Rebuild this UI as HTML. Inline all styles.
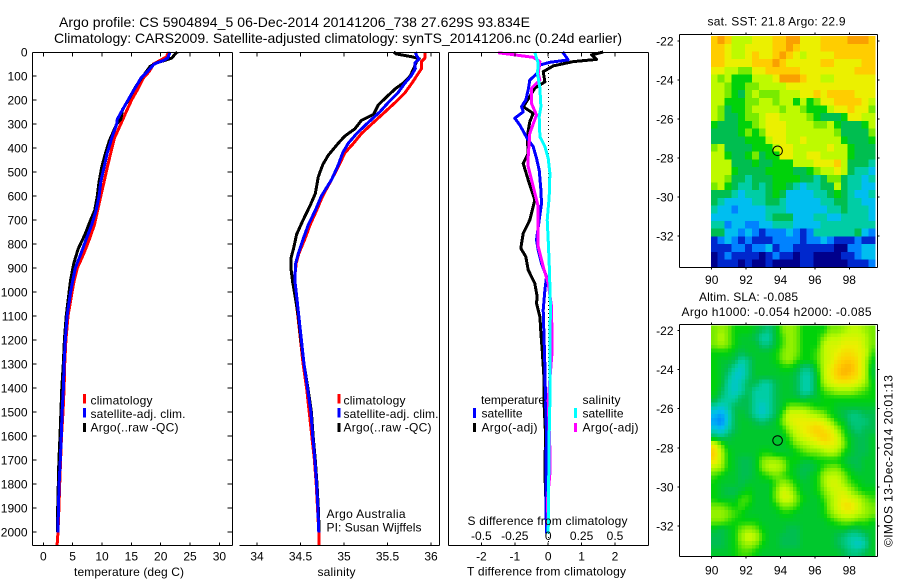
<!DOCTYPE html>
<html lang="en">
<head>
<meta charset="utf-8">
<title>Argo profile CS 5904894_5</title>
<style>
html,body{margin:0;padding:0;background:#fff;width:900px;height:580px;overflow:hidden}
svg{display:block}
text{font-family:"Liberation Sans",Arial,sans-serif;font-size:12px;fill:#000}
</style>
</head>
<body>
<svg id="figure" xmlns="http://www.w3.org/2000/svg" width="900" height="580" viewBox="0 0 900 580">
  <rect width="900" height="580" fill="#fff"/>
  <text style="font-size:14px" x="59" y="27" textLength="471" lengthAdjust="spacing">Argo profile: CS 5904894_5 06-Dec-2014 20141206_738 27.629S 93.834E</text>
  <text style="font-size:14px" x="54" y="43" textLength="568" lengthAdjust="spacing">Climatology: CARS2009. Satellite-adjusted climatology: synTS_20141206.nc (0.24d earlier)</text>

  <g id="heatmaps"></g>
  <g id="series"></g>
  <g id="axes"></g>

  <text x="74" y="576" textLength="110" lengthAdjust="spacing">temperature (deg C)</text>
  <text x="317.5" y="576" textLength="38" lengthAdjust="spacing">salinity</text>
  <text x="467.5" y="525" textLength="160" lengthAdjust="spacing">S difference from climatology</text>
  <text x="467" y="575.5" textLength="159" lengthAdjust="spacing">T difference from climatology</text>

  <g>
    <rect x="83" y="394" width="3" height="9.5" fill="#f00"/>
    <rect x="83" y="408" width="3" height="9.5" fill="#00f"/>
    <rect x="83" y="423" width="3" height="9" fill="#000"/>
    <text x="90.5" y="404.5" textLength="62" lengthAdjust="spacing">climatology</text>
    <text x="90.5" y="418" textLength="95" lengthAdjust="spacing">satellite-adj. clim.</text>
    <text x="90.5" y="431.5" textLength="88" lengthAdjust="spacing">Argo(..raw -QC)</text>
  </g>
  <g>
    <rect x="337.5" y="394" width="3" height="9.5" fill="#f00"/>
    <rect x="337.5" y="408" width="3" height="9.5" fill="#00f"/>
    <rect x="337.5" y="423" width="3" height="9" fill="#000"/>
    <text x="343.5" y="404.5" textLength="62" lengthAdjust="spacing">climatology</text>
    <text x="343.5" y="418" textLength="95" lengthAdjust="spacing">satellite-adj. clim.</text>
    <text x="343.5" y="431.5" textLength="88" lengthAdjust="spacing">Argo(..raw -QC)</text>
  </g>
  <text x="326.5" y="518" textLength="79" lengthAdjust="spacing">Argo Australia</text>
  <text x="326.5" y="531.5" textLength="95" lengthAdjust="spacing">PI: Susan Wijffels</text>

  <g>
    <text x="481" y="404" textLength="64" lengthAdjust="spacing">temperature</text>
    <rect x="473" y="408" width="3" height="10" fill="#00f"/>
    <text x="481.5" y="417.5" textLength="41" lengthAdjust="spacing">satellite</text>
    <rect x="473" y="423" width="3" height="9" fill="#000"/>
    <text x="481.5" y="431.5" textLength="56" lengthAdjust="spacing">Argo(-adj)</text>
    <text x="582.5" y="404" textLength="38" lengthAdjust="spacing">salinity</text>
    <rect x="574" y="408" width="3" height="10" fill="#0ff"/>
    <text x="582.5" y="417.5" textLength="41" lengthAdjust="spacing">satellite</text>
    <rect x="574" y="423" width="3" height="9" fill="#f0f"/>
    <text x="582.5" y="431.5" textLength="56" lengthAdjust="spacing">Argo(-adj)</text>
  </g>

  <text x="707.5" y="25.5" textLength="138" lengthAdjust="spacing">sat. SST: 21.8 Argo: 22.9</text>
  <text x="699" y="301" textLength="99" lengthAdjust="spacing">Altim. SLA: -0.085</text>
  <text x="681.5" y="316" textLength="190" lengthAdjust="spacing">Argo h1000: -0.054 h2000: -0.085</text>
  <text transform="translate(892.5,547) rotate(-90)" x="0" y="0" textLength="172" lengthAdjust="spacing">©IMOS 13-Dec-2014 20:01:13</text>
</svg>

<script>
// ---- Profile panels: depth axis and x-axis ticks ----
const depthTicks = [0,100,200,300,400,500,600,700,800,900,1000,1100,1200,1300,1400,1500,1600,1700,1800,1900,2000];
const tempTicks = [0,5,10,15,20,25,30];
const salinityTicks = [34,34.5,35,35.5,36];
const tempDiffTicks = [-2,-1,0,1,2];
const salDiffTicks = [-0.5,-0.25,0,0.25,0.5];
const lonTicks = [90,92,94,96,98];
const latTicks = [-22,-24,-26,-28,-30,-32];

// ---- Temperature profiles ----
const tempClimDepth = [0,20,35,50,80,110,150,200,250,300,360,420,480,540,600,660,720,780,840,900,960,1000,1100,1200,1300,1400,1500,1600,1700,1800,1900,2000,2054];
const tempClim = [21.3,21.0,19.9,18.75,18.1,17,16.2,15.05,14.1,13.2,12.1,11.5,10.9,10.35,9.8,9.25,8.7,7.85,6.9,5.8,5.2,4.9,4.2,3.85,3.65,3.55,3.35,3.1,2.95,2.8,2.65,2.5,2.35];
const tempArgoDepth = [0,10,25,35,45,60,90,120,150,200,240,280,300,370,430,480,540,600,660,700,760,820,880,950,1000,1100,1200,1300,1400,1500,1600,1700,1800,1900,2000];
const tempArgo = [22.85,22.4,21.9,20.7,19.3,18.2,17.3,16.4,15.6,14.5,13.5,13.2,12.5,11.25,10.5,9.95,9.5,9.2,8.75,8.05,7.1,5.95,5.2,4.65,4.4,3.9,3.6,3.4,3.15,3.0,2.85,2.65,2.55,2.45,2.45];
const tempSatDepth = [0,25,35,50,80,110,140,180,230,280,300,360,420,480,540,600,660,720,780,840,900,960,1000,1100,1200,1300,1400,1500,1600,1700,1800,1900,2003];
const tempSat = [21.6,21.2,20.5,18.9,17.8,16.6,15.9,14.9,13.75,12.6,12.5,11.65,10.9,10.35,9.8,9.5,9.0,8.25,7.3,6.4,5.45,4.95,4.65,4.05,3.75,3.55,3.43,3.2,3.07,2.9,2.7,2.57,2.5];

// ---- Salinity profiles ----
const salClimDepth = [0,25,40,70,100,130,170,210,250,300,340,380,420,470,530,600,660,720,780,840,880,950,1000,1100,1200,1300,1400,1500,1600,1700,1800,1900,2000,2054];
const salClim = [35.93,35.93,35.89,35.89,35.835,35.78,35.70,35.59,35.47,35.32,35.2,35.11,35.01,34.945,34.86,34.755,34.685,34.61,34.55,34.48,34.45,34.43,34.435,34.47,34.5,34.53,34.57,34.6,34.63,34.66,34.68,34.695,34.71,34.71];
const salArgoDepth = [0,8,20,28,40,70,100,130,150,180,220,260,285,320,350,380,430,470,520,590,640,700,760,820,860,900,960,1000,1100,1200,1300,1400,1500,1600,1700,1800,1900,2000];
const salArgo = [35.57,35.6,35.78,35.865,35.835,35.8,35.76,35.68,35.6,35.51,35.395,35.34,35.2,35.125,35.01,34.935,34.82,34.755,34.705,34.67,34.61,34.53,34.455,34.42,34.39,34.39,34.41,34.43,34.475,34.505,34.54,34.585,34.625,34.645,34.67,34.69,34.705,34.715];
const salSatDepth = [0,15,30,45,70,100,130,170,210,250,300,340,380,420,470,530,600,660,720,780,840,880,950,1000,1100,1200,1300,1400,1500,1600,1700,1800,1900,2003];
const salSat = [35.82,35.835,35.86,35.815,35.82,35.77,35.70,35.62,35.51,35.41,35.26,35.145,35.05,34.985,34.935,34.86,34.74,34.67,34.59,34.53,34.475,34.445,34.435,34.45,34.48,34.51,34.54,34.58,34.62,34.64,34.665,34.685,34.70,34.71];

// ---- Differences from climatology ----
const tDiffArgoDepth = [0,12,31,40,58,82,124,151,186,228,256,290,353,422,464,533,617,700,756,818,853,908,964,1019,1047,1103,1172,1242,1353,1450,1589,1756,1867,2006];
const tDiffArgo = [1.65,1.3,1.45,0.75,0.15,-0.15,-0.1,-0.4,-0.55,-0.75,-0.45,-0.55,-0.63,-0.6,-0.75,-0.6,-0.4,-0.55,-0.75,-0.82,-0.67,-0.6,-0.4,-0.33,-0.35,-0.25,-0.22,-0.18,-0.13,-0.13,-0.08,-0.10,-0.07,-0.05];
const tDiffSatDepth = [0,33,43,54,89,117,158,200,228,249,276,304,360,394,443,492,575,631,700,783,825,881,936,992,1075,1172,1311,1450,1589,1728,1867,2006];
const tDiffSat = [0.43,0.60,0.05,-0.25,-0.33,-0.55,-0.6,-0.67,-0.8,-0.75,-1.0,-0.85,-0.63,-0.45,-0.35,-0.27,-0.22,-0.20,-0.27,-0.35,-0.30,-0.20,-0.05,-0.10,-0.15,-0.13,-0.10,-0.08,-0.05,-0.07,-0.07,-0.05];
const sDiffArgoDepth = [3,12,22,40,89,117,151,214,262,339,436,478,561,644,714,811,894,964,1061,1242,1311,1450,1658,1756,1867,2006];
const sDiffArgo = [-0.375,-0.25,-0.1125,-0.0625,-0.075,-0.0625,-0.125,-0.125,-0.0875,-0.1375,-0.15,-0.15,-0.1125,-0.075,-0.075,-0.075,-0.0375,0,0.025,0.03,0.02,0,0.0125,0.0125,-0.005,0];
const sDiffSatDepth = [0,26,47,89,151,228,269,353,394,443,506,603,700,783,881,978,1075,1172,1450,1589,1867,2006];
const sDiffSat = [-0.1,-0.0875,-0.075,-0.08,-0.0625,-0.055,-0.0675,-0.0625,-0.025,0,0.0125,0.0075,-0.0075,0,0.0075,0.0125,0.0175,0.0125,0.0125,0.0075,0.0025,0];

// ---- Map markers ----
const floatLon = 93.834;
const floatLat = -27.629;

// ---- Map grids: colour-scale levels, north to south, west to east ----
const sstLevels = [
[10,11,10,8,8,8,9,9,9,10,10,11,11,9,9,9,10,10,10,10,11,11,11,10],
[10,10,9,8,8,9,9,9,9,10,10,11,10,9,9,9,10,10,10,10,10,10,10,10],
[10,10,9,8,8,9,10,9,9,10,11,10,9,8,9,9,9,9,10,10,10,10,10,10],
[10,10,9,9,9,9,10,10,10,11,10,9,9,9,9,9,10,10,9,9,9,9,10,10],
[9,9,8,8,7,7,9,9,10,10,10,10,10,9,9,9,9,9,9,9,9,10,10,10],
[8,7,8,6,6,6,8,8,8,9,11,11,11,10,9,9,8,8,9,9,9,9,9,9],
[8,8,7,6,6,7,7,8,8,8,8,9,9,9,9,9,9,9,9,9,9,9,9,9],
[8,8,7,6,5,7,8,7,7,7,8,8,8,9,9,10,9,10,10,10,10,9,9,9],
[8,8,6,6,6,7,7,8,8,7,8,8,6,8,6,7,9,9,10,10,10,10,9,8],
[8,7,5,6,6,7,8,8,8,8,7,8,8,7,6,6,6,8,9,9,10,9,9,7],
[8,7,5,5,6,7,7,8,9,9,8,8,8,8,7,6,5,5,5,6,9,9,8,8],
[6,5,5,5,6,6,7,8,9,9,9,8,8,8,8,7,7,8,6,5,5,5,6,8],
[5,5,5,5,6,7,6,7,9,9,9,8,8,8,8,8,8,8,7,5,5,5,5,7],
[5,5,5,5,5,6,6,6,8,9,9,8,8,9,8,8,8,8,8,6,5,5,5,6],
[7,8,5,5,5,5,6,6,6,8,9,9,8,8,8,8,8,9,8,8,6,5,5,5],
[8,8,6,5,5,6,7,5,6,6,9,9,8,8,9,9,8,8,8,8,6,5,5,5],
[8,8,8,5,5,5,6,5,5,6,6,6,8,8,8,9,9,9,10,8,5,5,5,4],
[8,8,8,6,5,5,5,5,6,6,6,6,5,5,6,7,8,8,9,8,5,4,4,3],
[8,8,7,5,5,4,5,5,5,6,6,6,6,5,5,4,5,7,7,5,4,4,3,4],
[7,8,6,5,4,4,5,4,5,6,6,5,4,3,4,4,5,5,8,5,4,4,3,3],
[5,5,5,4,3,4,4,4,5,6,5,3,3,3,3,4,4,5,6,5,4,3,3,4],
[5,4,3,3,3,3,4,4,5,5,4,3,3,3,3,3,4,4,5,5,4,4,3,3],
[4,3,3,2,3,3,3,3,4,4,4,3,3,3,3,3,3,4,4,5,4,4,4,3],
[3,3,3,3,3,3,3,3,4,5,5,5,3,3,3,4,4,3,3,4,4,4,4,3],
[4,4,2,3,3,2,2,3,3,4,4,4,3,3,3,3,4,4,4,4,4,4,4,4],
[5,5,3,3,2,3,2,1,2,2,2,3,2,1,2,4,4,4,4,4,4,5,3,2],
[1,2,3,2,1,2,1,1,1,2,2,2,2,1,2,2,3,2,1,1,1,2,1,1],
[1,1,1,2,2,1,2,2,3,1,2,2,1,1,1,1,1,1,0,0,2,2,3,3],
[0,1,2,1,1,1,1,0,1,2,1,1,0,1,1,0,0,0,0,1,1,2,3,3],
[0,1,1,1,0,1,0,0,1,0,0,0,0,1,1,0,0,0,0,0,1,1,1,2]
];
const slaLevels = [
[7,7.5,7,6,6,6,5.5,5,4.5,5.5,7,7.5,7,6,6,6,6,7,7,7.5,8,8,7.5,7],
[7,8,7,6,5.5,5.5,5,4,4,5.5,6.5,7.5,7,6,6,6,7,8,8,8.5,8.5,8.5,8,7],
[7,7.5,7,6,5.5,5.5,5.5,4.5,4.5,5.5,6.5,7.5,7,6,6,6,8,8.5,8.5,9,9,9,8,7],
[6,6,6,5.5,5,5.5,5.5,5.5,5.5,6,7,7.5,7,6,6,6.5,8,8.5,9,9.5,9.5,9,8.5,6.5],
[6,5.5,5.5,5,4,4.5,5.5,5.5,5.5,6,7,7.5,6.5,6,6,6.5,8,8.5,9.5,10,10,9.5,8,6],
[6,5.5,5,4,3.5,4.5,5.5,5.5,5.5,5.5,6,6,5.5,4.5,4.5,6,8,9,10,10.5,10.5,9.5,8,5.5],
[6,5.5,4.5,3.5,3.5,4.5,5.5,5.5,5.5,5.5,5.5,5.5,5,4,4,5.5,8,9,10,10.5,10,9.5,8,5.5],
[6,5.5,4,3.5,4,5,5,4,4,5,5.5,5.5,5,4,4,5.5,7.5,8.5,9,9,9,8.5,7.5,6],
[6,5,4,3.5,4,5,4,4,4,5,5.5,5.5,5,4,4,5.5,6.5,7,7.5,7.5,7.5,7,6.5,6],
[5.5,4.5,4,4,5,5,4,4,4,5,5.5,5.5,5.5,5,5.5,5.5,6,6,6,6,6,6,6,6],
[4,3.5,4,5,5,5,4,3.5,4,5,5.5,7,7,7,6.5,6,6,6,5.5,5.5,5.5,5.5,5.5,5.5],
[3,2.5,3.5,5,5.5,5,4,3.5,4,5,6.5,8.5,8.5,8.5,8,7.5,7,6,5.5,5,4.5,4.5,5,5],
[2.5,2,3.5,5,5.5,5.5,5,4.5,5,5.5,7,8.5,9,9,9,9,8.5,7.5,6,5.5,4.5,4.5,4.5,5],
[3.5,3,4,5,5.5,5.5,5.5,5.5,5.5,5.5,6,7.5,8.5,9,9.5,10,9.5,9,7.5,6,5,4.5,5,5],
[5,4.5,5,5.5,5.5,5.5,5.5,5.5,5.5,5.5,5.5,6.5,8,8.5,9,9.5,10,9.5,8.5,6.5,5.5,5,5,5.5],
[9,7,5.5,5.5,5.5,5.5,5.5,5.5,5.5,5.5,5.5,6,7,7.5,8,8.5,9,9,8.5,7,5.5,5,5,5.5],
[10,8,6,5.5,5.5,5.5,5.5,6,6,5.5,5.5,5.5,6,6.5,7,7,7.5,8,7.5,6,5.5,5,5,5.5],
[9.5,8,6,5.5,5,5,5.5,7,7.5,7.5,7,6,6,5.5,5.5,6,6,6,6,5.5,5,5,5.5,5.5],
[8,7.5,6,5.5,5,5,5.5,7,8,8,7.5,6,5.5,5,5,5.5,6.5,7,7,6,5.5,5,5.5,5.5],
[6.5,6,5.5,5.5,5,5,5.5,6,6.5,7,6.5,6,5.5,5,5.5,6,7.5,8,8,7,6,5.5,5.5,5.5],
[6,5.5,5.5,5.5,5,5.5,5.5,5.5,5.5,6.5,7.5,7,6,5.5,5.5,6,7.5,8.5,8.5,7.5,6.5,6,5.5,5.5],
[6,5.5,5,5,5.5,6,5.5,5.5,5.5,7,8.5,8,6.5,5.5,5.5,6,7,8,8.5,8.5,7.5,6.5,6,6],
[6,5.5,5.5,5.5,6.5,6.5,5.5,5.5,5.5,7,8.5,8.5,7,6,5.5,5.5,6.5,7.5,8.5,9,8.5,8,7,6.5],
[7,7,6.5,6,6.5,6,5.5,5.5,5.5,6,7,7,6.5,5.5,5.5,5.5,6,7.5,8.5,9.5,9.5,8.5,7.5,7],
[7.5,7.5,7,6.5,6,5.5,5.5,5.5,5.5,5.5,6,6,5.5,5.5,5.5,5.5,6,7,8,8.5,8.5,8,7.5,7],
[7,7,6.5,6,6,6,6,5.5,5.5,5.5,5.5,5.5,5.5,5.5,5.5,5.5,5.5,6,6.5,7,7,6.5,6.5,6],
[5.5,5,5.5,6,7,7.5,7,6,5.5,5.5,5.5,5,5,5.5,5.5,5.5,5.5,5.5,5.5,5.5,5,5,5.5,5.5],
[5,5,5.5,6,7.5,8.5,8,6.5,5.5,5.5,5,5,5,5.5,5.5,5.5,5.5,5.5,5,4.5,4,4,4.5,5.5],
[5,5,5.5,6,7,7.5,7,6,5.5,5.5,5,5,5,5.5,5.5,5.5,5.5,5.5,5,4.5,4,3.5,4,5.5],
[5.5,5.5,5.5,6,6.5,6.5,6,5.5,5.5,5.5,5.5,5.5,5.5,5.5,5.5,5.5,5.5,5.5,5.5,5,4.5,4.5,5,5.5]
];

// ---- Colour ramp for the map levels 0..11 ----
const rampColours = [[0,0,140],[0,40,205],[0,130,255],[0,190,240],[0,205,165],[0,190,80],[0,210,10],[120,235,0],[190,250,0],[235,240,0],[255,205,0],[250,160,0]];

// ---- Axis functions ----
const yDepth = d => 52 + 0.24 * d;
const xTemp = t => 43.3 + 5.87 * t;
const xSal = s => 257 + 87 * (s - 34);
const xTDiff = t => 548.2 + 33.4 * t;
const xSDiff = s => 548.2 + 133.6 * s;
const xLon = lon => 711.7 + 17.2 * (lon - 90);
const ySstLat = lat => 41 + 19.5 * (-22 - lat);
const ySlaLat = lat => 330.5 + 19.55 * (-22 - lat);

const NS = 'http://www.w3.org/2000/svg';
const axesLayer = document.getElementById('axes');
const seriesLayer = document.getElementById('series');
const mapLayer = document.getElementById('heatmaps');

function makeLine(parent, x1, y1, x2, y2, name) {
  const el = document.createElementNS(NS, 'line');
  el.setAttribute('x1', x1);
  el.setAttribute('y1', y1);
  el.setAttribute('x2', x2);
  el.setAttribute('y2', y2);
  el.setAttribute('stroke', '#000');
  el.setAttribute('stroke-width', '1');
  el.setAttribute('shape-rendering', 'crispEdges');
  
  
  parent.appendChild(el);
  return el;
}

function makeLabel(parent, x, y, content, anchor, name) {
  const el = document.createElementNS(NS, 'text');
  el.setAttribute('x', x);
  el.setAttribute('y', y);
  el.setAttribute('text-anchor', anchor);
  el.textContent = content;
  
  
  parent.appendChild(el);
  return el;
}

function drawProfile(depths, values, xScale, colour, name) {
  const el = document.createElementNS(NS, 'polyline');
  const pts = values.map((v, i) => xScale(v).toFixed(1) + ',' + yDepth(depths[i]).toFixed(1));
  el.setAttribute('points', pts.join(' '));
  el.setAttribute('fill', 'none');
  el.setAttribute('stroke', colour);
  el.setAttribute('stroke-width', '3');
  el.setAttribute('stroke-linejoin', 'round');
  el.setAttribute('shape-rendering', 'crispEdges');
  
  
  seriesLayer.appendChild(el);
}

function rampColour(level) {
  const clamped = Math.max(0, Math.min(rampColours.length - 1, level));
  const lo = Math.floor(clamped);
  const hi = Math.min(rampColours.length - 1, lo + 1);
  const f = clamped - lo;
  const c = rampColours[lo].map((v, i) => Math.round(v + (rampColours[hi][i] - v) * f));
  return 'rgb(' + c.join(',') + ')';
}

// Reads a grid at a fractional row/column, so a coarse grid can be drawn smoothly.
function sampleGrid(grid, rowPos, colPos) {
  const r = Math.max(0, Math.min(grid.length - 1, rowPos));
  const c = Math.max(0, Math.min(grid[0].length - 1, colPos));
  const r0 = Math.floor(r);
  const c0 = Math.floor(c);
  const r1 = Math.min(grid.length - 1, r0 + 1);
  const c1 = Math.min(grid[0].length - 1, c0 + 1);
  const fr = r - r0;
  const fc = c - c0;
  const top = grid[r0][c0] * (1 - fc) + grid[r0][c1] * fc;
  const bottom = grid[r1][c0] * (1 - fc) + grid[r1][c1] * fc;
  return top * (1 - fr) + bottom * fr;
}

function drawHeatmap(grid, latScale, latTop, latBottom, subdivide, name) {
  const lonLeft = 89.95;
  const lonRight = 99.5;
  const rows = grid.length * subdivide;
  const cols = grid[0].length * subdivide;
  const group = document.createElementNS(NS, 'g');
  
  
  group.setAttribute('shape-rendering', 'crispEdges');
  for (let r = 0; r < rows; r++) {
    const y0 = latScale(latTop + (latBottom - latTop) * r / rows);
    const y1 = latScale(latTop + (latBottom - latTop) * (r + 1) / rows);
    for (let c = 0; c < cols; c++) {
      const x0 = xLon(lonLeft + (lonRight - lonLeft) * c / cols);
      const x1 = xLon(lonLeft + (lonRight - lonLeft) * (c + 1) / cols);
      const level = sampleGrid(grid, (r + 0.5) / subdivide - 0.5, (c + 0.5) / subdivide - 0.5);
      const cell = document.createElementNS(NS, 'rect');
      cell.setAttribute('x', x0.toFixed(2));
      cell.setAttribute('y', y0.toFixed(2));
      cell.setAttribute('width', (x1 - x0 + 0.4).toFixed(2));
      cell.setAttribute('height', (y1 - y0 + 0.4).toFixed(2));
      cell.setAttribute('fill', rampColour(level));
      
      
      group.appendChild(cell);
    }
  }
  mapLayer.appendChild(group);
}

function drawFloatMarker(latScale, name) {
  const el = document.createElementNS(NS, 'circle');
  el.setAttribute('cx', xLon(floatLon).toFixed(1));
  el.setAttribute('cy', latScale(floatLat).toFixed(1));
  el.setAttribute('r', '4.8');
  el.setAttribute('fill', 'none');
  el.setAttribute('stroke', '#000');
  el.setAttribute('stroke-width', '1');
  
  
  mapLayer.appendChild(el);
}

function drawMapAxes(top, bottom, latScale, labelY, prefix) {
  const left = 679.5;
  const right = 877.5;
  makeLine(axesLayer, left, top, right, top, prefix + '-top-axis');
  makeLine(axesLayer, left, bottom, right, bottom, prefix + '-bottom-axis');
  makeLine(axesLayer, left, top, left, bottom, prefix + '-left-axis');
  makeLine(axesLayer, right, top, right, bottom, prefix + '-right-axis');
  lonTicks.forEach(lon => {
    makeLine(axesLayer, xLon(lon), top, xLon(lon), top - 2, prefix + '-lon-tick');
    makeLine(axesLayer, xLon(lon), bottom, xLon(lon), bottom + 2, prefix + '-lon-tick');
    makeLabel(axesLayer, xLon(lon), labelY, String(lon), 'middle', prefix + '-lon-label');
  });
  latTicks.forEach(lat => {
    makeLine(axesLayer, left, latScale(lat), left - 2, latScale(lat), prefix + '-lat-tick');
    makeLine(axesLayer, right, latScale(lat), right + 2, latScale(lat), prefix + '-lat-tick');
    makeLabel(axesLayer, 673.5, latScale(lat) + 4.5, String(lat), 'end', prefix + '-lat-label');
  });
}

function drawDepthTicks(left, right, prefix) {
  depthTicks.forEach(d => {
    if (d > 0) {
      makeLine(axesLayer, left, yDepth(d), left + 4, yDepth(d), prefix + '-depth-tick');
      makeLine(axesLayer, right, yDepth(d), right - 5, yDepth(d), prefix + '-depth-tick');
    }
  });
}

function drawXTicks(ticks, scale, labelFn, prefix) {
  ticks.forEach(v => {
    makeLine(axesLayer, scale(v), 52.5, scale(v), 56.5, prefix + '-tick');
    makeLine(axesLayer, scale(v), 545.5, scale(v), 542.5, prefix + '-tick');
    makeLabel(axesLayer, scale(v), 560.5, labelFn(v), 'middle', prefix + '-tick-label');
  });
}

// ---- Panel frames ----
const panelTop = 52.5;
const panelBottom = 545.5;

makeLine(axesLayer, 32.5, panelTop, 232.5, panelTop, 'temperature-top-axis');
makeLine(axesLayer, 32.5, panelBottom, 232.5, panelBottom, 'temperature-bottom-axis');
makeLine(axesLayer, 32.5, panelTop, 32.5, panelBottom, 'temperature-left-axis');
makeLine(axesLayer, 232.5, panelTop, 232.5, panelBottom, 'temperature-right-axis');
drawDepthTicks(32.5, 232.5, 'temperature');
depthTicks.forEach(d => {
  makeLabel(axesLayer, 27.5, yDepth(d) + 4.5, String(d), 'end', 'depth-axis-label');
});
drawXTicks(tempTicks, xTemp, String, 'temperature');

makeLine(axesLayer, 239.5, panelTop, 439.5, panelTop, 'salinity-top-axis');
makeLine(axesLayer, 239.5, panelBottom, 439.5, panelBottom, 'salinity-bottom-axis');
makeLine(axesLayer, 439.5, panelTop, 439.5, panelBottom, 'salinity-right-axis');
drawXTicks(salinityTicks, xSal, String, 'salinity');

makeLine(axesLayer, 448.5, panelTop, 648.5, panelTop, 'difference-top-axis');
makeLine(axesLayer, 448.5, panelBottom, 648.5, panelBottom, 'difference-bottom-axis');
makeLine(axesLayer, 448.5, panelTop, 448.5, panelBottom, 'difference-left-axis');
makeLine(axesLayer, 648.5, panelTop, 648.5, panelBottom, 'difference-right-axis');
drawXTicks(tempDiffTicks, xTDiff, String, 'temperature-difference');
salDiffTicks.forEach(v => {
  makeLabel(axesLayer, xSDiff(v), 540, String(v), 'middle', 'salinity-difference-tick-label');
});

const zeroX = Math.floor(xTDiff(0)) + 0.5;
const zeroLine = makeLine(seriesLayer, zeroX, 53, zeroX, 545, 'zero-difference-line');
zeroLine.setAttribute('stroke-dasharray', '1 3');

// ---- Series ----
drawProfile(tempClimDepth, tempClim, xTemp, '#ff0000', 'temperature-climatology-line');
drawProfile(tempArgoDepth, tempArgo, xTemp, '#000000', 'temperature-argo-line');
drawProfile(tempSatDepth, tempSat, xTemp, '#0000ff', 'temperature-satellite-adj-line');

drawProfile(salClimDepth, salClim, xSal, '#ff0000', 'salinity-climatology-line');
drawProfile(salArgoDepth, salArgo, xSal, '#000000', 'salinity-argo-line');
drawProfile(salSatDepth, salSat, xSal, '#0000ff', 'salinity-satellite-adj-line');

drawProfile(tDiffArgoDepth, tDiffArgo, xTDiff, '#000000', 'temperature-difference-argo-line');
drawProfile(tDiffSatDepth, tDiffSat, xTDiff, '#0000ff', 'temperature-difference-satellite-line');
drawProfile(sDiffArgoDepth, sDiffArgo, xSDiff, '#ff00ff', 'salinity-difference-argo-line');
drawProfile(sDiffSatDepth, sDiffSat, xSDiff, '#00ffff', 'salinity-difference-satellite-line');

// ---- Maps ----
drawHeatmap(sstLevels, ySstLat, -21.75, -33.6, 1, 'sst-heatmap');
drawFloatMarker(ySstLat, 'sst-float-marker');
drawMapAxes(34.5, 267.5, ySstLat, 284, 'sst-map');

drawHeatmap(slaLevels, ySlaLat, -21.75, -33.55, 2, 'sla-heatmap');
drawFloatMarker(ySlaLat, 'sla-float-marker');
drawMapAxes(324.5, 556.5, ySlaLat, 574.5, 'sla-map');
</script>
</body>
</html>
